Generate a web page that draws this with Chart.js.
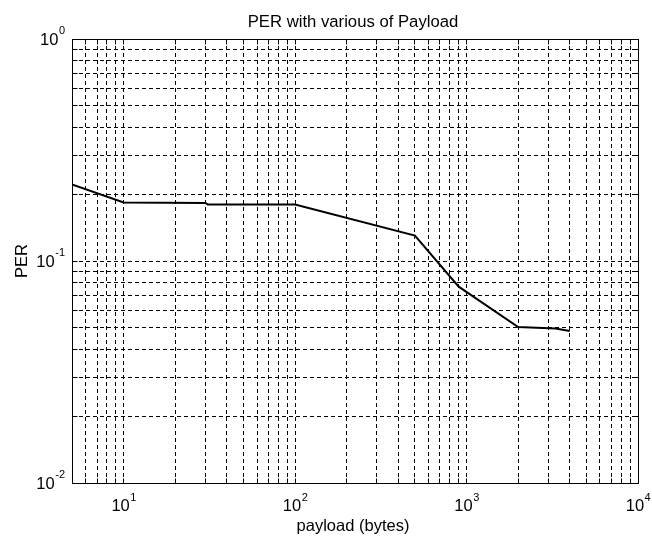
<!DOCTYPE html>
<html>
<head>
<meta charset="utf-8">
<script src="https://cdn.jsdelivr.net/npm/chart.js@4.4.0/dist/chart.umd.min.js"></script>
<style>
  html, body { margin: 0; padding: 0; background: #fff; }
</style>
</head>
<body>
<canvas id="per_chart" width="652" height="540"></canvas>
<script>
  // values
  const payload = [5, 10, 30, 31, 100, 500, 900, 2000, 3300, 4000];
  const per = [0.221, 0.1835, 0.1825, 0.1795, 0.1795, 0.1302, 0.0766, 0.0504, 0.0496, 0.0484];

  const xRange = [5, 10000];
  const yRange = [0.01, 1];
  const xMajorTicks = [10, 100, 1000, 10000];
  const yMajorTicks = [0.01, 0.1, 1];

  const titleText = 'PER with various of Payload';
  const xTitle = 'payload (bytes)';
  const yTitle = 'PER';

  const FAMILY = '"Liberation Sans", Arial, Helvetica, sans-serif';
  const mainFont = '16.5px ' + FAMILY;
  const supFont = '11px ' + FAMILY;

  // 1..9 x 10^n grid, like matlab's minor grid
  function logTicks(min, max) {
    const out = [];
    for (let e = Math.floor(Math.log10(min)); e <= Math.ceil(Math.log10(max)); e++) {
      for (let m = 1; m < 10; m++) {
        const v = m * Math.pow(10, e);
        if (v >= min * 0.999 && v <= max * 1.001) out.push({value: v});
      }
    }
    return out;
  }

  const align = p => Math.round(p - 0.5) + 0.5;

  const decorations = {
    id: 'decorations',
    afterDraw(chart) {
      const {ctx, chartArea: a, scales: {x, y}} = chart;
      const L = align(a.left), R = align(a.right), T = align(a.top), B = align(a.bottom);
      ctx.save();
      ctx.strokeStyle = '#000';
      ctx.lineWidth = 1;
      ctx.setLineDash([]);

      // small inward ticks on all four sides
      ctx.beginPath();
      x.ticks.forEach(t => {
        const px = align(x.getPixelForValue(t.value));
        ctx.moveTo(px, B); ctx.lineTo(px, B - 5);
        ctx.moveTo(px, T); ctx.lineTo(px, T + 5);
      });
      y.ticks.forEach(t => {
        const py = align(y.getPixelForValue(t.value));
        ctx.moveTo(L, py); ctx.lineTo(L + 5, py);
        ctx.moveTo(R, py); ctx.lineTo(R - 5, py);
      });
      ctx.stroke();

      // box
      ctx.strokeRect(L, T, R - L, B - T);

      ctx.fillStyle = '#000';
      ctx.textBaseline = 'alphabetic';

      // x tick labels 10^n
      xMajorTicks.forEach(v => {
        const px = x.getPixelForValue(v);
        const ex = String(Math.round(Math.log10(v)));
        ctx.font = mainFont;
        const w1 = ctx.measureText('10').width;
        ctx.font = supFont;
        const w2 = ctx.measureText(ex).width;
        const start = px - (w1 + w2) / 2;
        ctx.textAlign = 'left';
        ctx.font = mainFont;
        ctx.fillText('10', start, a.bottom + 28);
        ctx.font = supFont;
        ctx.fillText(ex, start + w1 + 0.5, a.bottom + 18);
      });

      // y tick labels 10^n
      yMajorTicks.forEach(v => {
        const py = y.getPixelForValue(v);
        const ex = String(Math.round(Math.log10(v)));
        ctx.font = supFont;
        const w2 = ctx.measureText(ex).width;
        ctx.font = mainFont;
        const w1 = ctx.measureText('10').width;
        const end = a.left - 7;
        ctx.textAlign = 'left';
        ctx.fillText('10', end - w2 - w1 - 0.5, py + 6);
        ctx.font = supFont;
        ctx.fillText(ex, end - w2, py - 5);
      });

      const cx = (a.left + a.right) / 2 - 2;

      // title
      ctx.font = '16.7px ' + FAMILY;
      ctx.textAlign = 'center';
      ctx.fillText(titleText, cx, 27);

      // axis titles
      ctx.font = mainFont;
      ctx.fillText(xTitle, cx, 531);

      ctx.translate(26.5, (a.top + a.bottom) / 2);
      ctx.rotate(-Math.PI / 2);
      ctx.fillText(yTitle, 0, 0);

      ctx.restore();
    }
  };

  const data = {
    datasets: [{
      label: 'PER',
      data: payload.map((p, i) => ({x: p, y: per[i]})),
      borderColor: '#000',
      backgroundColor: '#000',
      borderWidth: 2,
      pointRadius: 0,
      tension: 0,
      fill: false
    }]
  };

  const gridOpts = {
    color: '#000',
    lineWidth: 1,
    drawTicks: false
  };

  const config = {
    type: 'line',
    data: data,
    options: {
      responsive: false,
      animation: false,
      devicePixelRatio: 1,
      layout: {
        padding: {left: 72, top: 39, right: 14, bottom: 57}
      },
      plugins: {
        legend: {display: false},
        tooltip: {enabled: false},
        title: {display: false}
      },
      scales: {
        x: {
          type: 'logarithmic',
          min: xRange[0],
          max: xRange[1],
          grid: gridOpts,
          border: {display: false, dash: [4, 3]},
          ticks: {display: false},
          afterBuildTicks: s => { s.ticks = logTicks(s.min, s.max); }
        },
        y: {
          type: 'logarithmic',
          min: yRange[0],
          max: yRange[1],
          grid: gridOpts,
          border: {display: false, dash: [4, 3]},
          ticks: {display: false},
          afterBuildTicks: s => { s.ticks = logTicks(s.min, s.max); }
        }
      }
    },
    plugins: [decorations]
  };

  new Chart(document.getElementById('per_chart'), config);
</script>
</body>
</html>
